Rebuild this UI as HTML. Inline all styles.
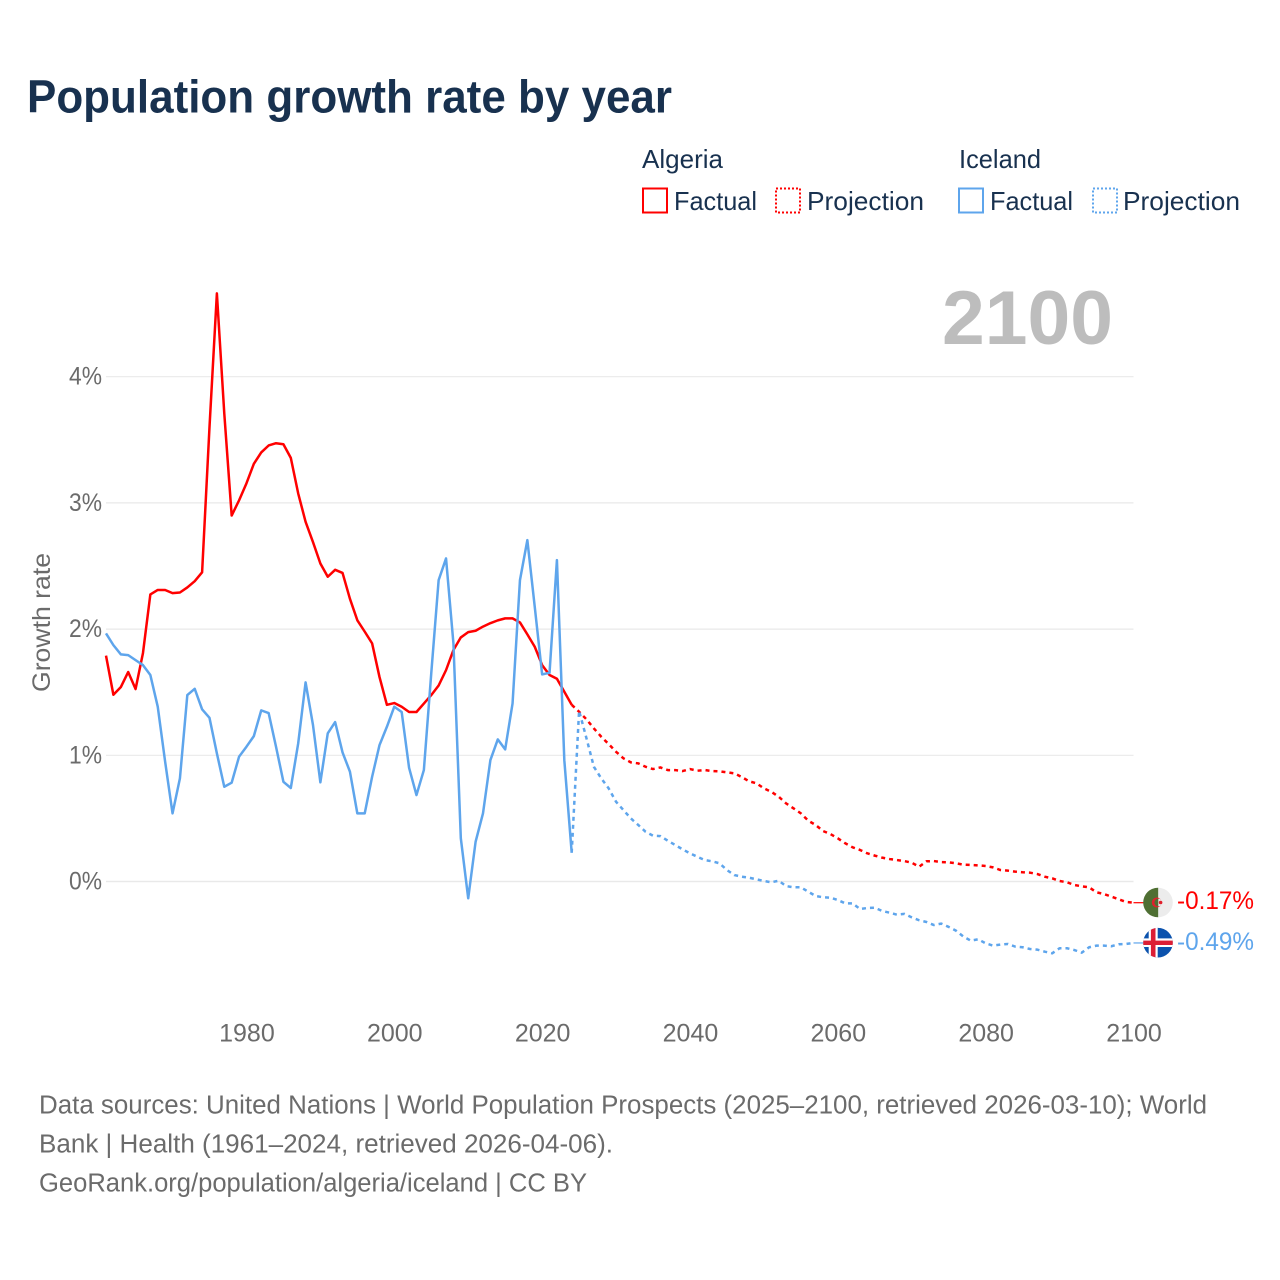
<!DOCTYPE html>
<html lang="en">
<head>
<meta charset="utf-8">
<title>Population growth rate by year</title>
<style>
html,body{margin:0;padding:0;background:#fff}
svg{display:block}
text{font-family:"Liberation Sans",sans-serif}
</style>
</head>
<body>
<svg id="chart" width="1280" height="1280" viewBox="0 0 1280 1280" xmlns="http://www.w3.org/2000/svg">
<rect width="1280" height="1280" fill="#fff"/>
<text x="27" y="112.5" font-size="46" font-weight="700" fill="#18314f" textLength="645" lengthAdjust="spacingAndGlyphs">Population growth rate by year</text>

<g font-size="26" fill="#18314f">
<text x="642" y="168" textLength="81" lengthAdjust="spacingAndGlyphs">Algeria</text>
<g>
<rect x="643" y="188.5" width="24" height="24" fill="none" stroke="#f00" stroke-width="2"/>
<text x="674" y="210" textLength="83" lengthAdjust="spacingAndGlyphs">Factual</text>
</g>
<g>
<rect x="776" y="188.5" width="24" height="24" fill="none" stroke="#f00" stroke-width="2" stroke-dasharray="2 2"/>
<text x="807" y="210" textLength="117" lengthAdjust="spacingAndGlyphs">Projection</text>
</g>
<text x="959" y="168" textLength="82" lengthAdjust="spacingAndGlyphs">Iceland</text>
<g>
<rect x="959" y="188.5" width="24" height="24" fill="none" stroke="#5ea5ec" stroke-width="2"/>
<text x="990" y="210" textLength="83" lengthAdjust="spacingAndGlyphs">Factual</text>
</g>
<g>
<rect x="1093" y="188.5" width="24" height="24" fill="none" stroke="#5ea5ec" stroke-width="2" stroke-dasharray="2 2"/>
<text x="1123" y="210" textLength="117" lengthAdjust="spacingAndGlyphs">Projection</text>
</g>
</g>

<text x="942" y="344" font-size="76" font-weight="700" fill="#bdbdbd" textLength="171" lengthAdjust="spacingAndGlyphs">2100</text>
<text transform="translate(50,692) rotate(-90)" font-size="25" fill="#6b6b6b" textLength="139" lengthAdjust="spacingAndGlyphs">Growth rate</text>

<g id="grid"></g>
<g id="yticks"></g>
<g id="xticks"></g>
<g id="series"></g>

<g id="end-markers">
<defs>
<clipPath id="clip-dz"><circle cx="1158" cy="902.5" r="14.8"/></clipPath>
<clipPath id="clip-is"><circle cx="1158" cy="942.7" r="14.8"/></clipPath>
</defs>
<g clip-path="url(#clip-dz)">
<rect x="1143" y="887" width="15.3" height="31" fill="#4f6f33"/>
<rect x="1158.3" y="887" width="15" height="31" fill="#ececec"/>
<circle cx="1156.8" cy="902.5" r="5" fill="#e0202c"/>
<path d="M1158.3 898.6a3.9 3.9 0 0 0 0 7.8z" fill="#4f6f33"/>
<path d="M1158.3 898.6a3.9 3.9 0 0 1 0 7.8z" fill="#ececec"/>
<circle cx="1160.6" cy="902.5" r="1.8" fill="#e0202c"/>
</g>
<g clip-path="url(#clip-is)">
<rect x="1143" y="927" width="31" height="31" fill="#0b52ad"/>
<rect x="1148.7" y="927" width="9" height="31" fill="#fff"/>
<rect x="1143" y="938.4" width="31" height="8.6" fill="#fff"/>
<rect x="1150.9" y="927" width="4.6" height="31" fill="#dc1e35"/>
<rect x="1143" y="940.6" width="31" height="4.4" fill="#dc1e35"/>
</g>
<text x="1177" y="909" font-size="25" fill="#f00" textLength="77" lengthAdjust="spacingAndGlyphs">-0.17%</text>
<text x="1177" y="950" font-size="25" fill="#5ea5ec" textLength="77" lengthAdjust="spacingAndGlyphs">-0.49%</text>
</g>

<g font-size="25.5" fill="#6b6b6b">
<text x="39" y="1113.5" textLength="1168" lengthAdjust="spacingAndGlyphs">Data sources: United Nations | World Population Prospects (2025–2100, retrieved 2026-03-10); World</text>
<text x="39" y="1152.5" textLength="574" lengthAdjust="spacingAndGlyphs">Bank | Health (1961–2024, retrieved 2026-04-06).</text>
<text x="39" y="1191.5" textLength="548" lengthAdjust="spacingAndGlyphs">GeoRank.org/population/algeria/iceland | CC BY</text>
</g>
</svg>

<script>
const xTickYears = [1980, 2000, 2020, 2040, 2060, 2080, 2100];
const yTickValues = [0, 1, 2, 3, 4];
const yTickLabels = ['0%', '1%', '2%', '3%', '4%'];

const factualYears = [1961,1962,1963,1964,1965,1966,1967,1968,1969,1970,1971,1972,1973,1974,1975,1976,1977,1978,1979,1980,1981,1982,1983,1984,1985,1986,1987,1988,1989,1990,1991,1992,1993,1994,1995,1996,1997,1998,1999,2000,2001,2002,2003,2004,2005,2006,2007,2008,2009,2010,2011,2012,2013,2014,2015,2016,2017,2018,2019,2020,2021,2022,2023,2024];
const projectionYears = [2024,2025,2026,2027,2028,2029,2030,2031,2032,2033,2034,2035,2036,2037,2038,2039,2040,2041,2042,2043,2044,2045,2046,2047,2048,2049,2050,2051,2052,2053,2054,2055,2056,2057,2058,2059,2060,2061,2062,2063,2064,2065,2066,2067,2068,2069,2070,2071,2072,2073,2074,2075,2076,2077,2078,2079,2080,2081,2082,2083,2084,2085,2086,2087,2088,2089,2090,2091,2092,2093,2094,2095,2096,2097,2098,2099,2100];

const algeriaFactual = [1.79,1.48,1.54,1.66,1.525,1.81,2.275,2.31,2.31,2.285,2.29,2.33,2.38,2.45,3.6,4.66,3.71,2.90,3.02,3.155,3.31,3.40,3.455,3.473,3.465,3.357,3.075,2.85,2.69,2.52,2.415,2.47,2.445,2.24,2.07,1.98,1.887,1.62,1.40,1.414,1.385,1.343,1.343,1.41,1.477,1.553,1.675,1.834,1.934,1.976,1.987,2.02,2.047,2.069,2.085,2.085,2.053,1.958,1.86,1.715,1.636,1.607,1.504,1.40];
const icelandFactual = [1.966,1.873,1.80,1.794,1.754,1.715,1.636,1.385,0.949,0.54,0.817,1.477,1.527,1.364,1.297,1.015,0.751,0.783,0.989,1.068,1.152,1.356,1.335,1.068,0.79,0.741,1.094,1.578,1.24,0.786,1.174,1.263,1.023,0.87,0.54,0.54,0.83,1.081,1.226,1.385,1.343,0.901,0.685,0.883,1.649,2.388,2.56,1.887,0.342,-0.133,0.315,0.54,0.962,1.126,1.047,1.411,2.388,2.705,2.177,1.641,1.654,2.547,0.962,0.228];
const algeriaProjection = [1.40,1.345,1.285,1.213,1.147,1.089,1.028,0.976,0.944,0.936,0.909,0.891,0.904,0.883,0.883,0.875,0.891,0.878,0.883,0.875,0.873,0.865,0.857,0.828,0.794,0.778,0.738,0.711,0.672,0.619,0.58,0.54,0.482,0.448,0.40,0.376,0.342,0.303,0.271,0.25,0.223,0.205,0.189,0.178,0.17,0.162,0.149,0.117,0.16,0.162,0.154,0.152,0.144,0.133,0.131,0.128,0.123,0.112,0.091,0.086,0.078,0.073,0.07,0.059,0.038,0.025,0.004,-0.006,-0.028,-0.038,-0.046,-0.086,-0.099,-0.12,-0.141,-0.162,-0.168];
const icelandProjection = [0.228,1.353,1.134,0.909,0.817,0.738,0.632,0.566,0.50,0.448,0.394,0.363,0.36,0.323,0.289,0.255,0.223,0.196,0.17,0.16,0.144,0.091,0.051,0.038,0.03,0.017,0.004,-0.006,0.006,-0.036,-0.046,-0.046,-0.081,-0.115,-0.125,-0.128,-0.147,-0.173,-0.173,-0.218,-0.21,-0.208,-0.234,-0.247,-0.263,-0.257,-0.284,-0.307,-0.321,-0.345,-0.334,-0.36,-0.39,-0.437,-0.469,-0.458,-0.49,-0.508,-0.50,-0.495,-0.516,-0.521,-0.535,-0.54,-0.556,-0.569,-0.529,-0.529,-0.543,-0.564,-0.521,-0.508,-0.508,-0.513,-0.497,-0.495,-0.487];

const NS = 'http://www.w3.org/2000/svg';
const plotLeft = 106;
const plotRight = 1133.5;
const xScale = function (year) { return plotLeft + (year - 1961) * (plotRight - plotLeft) / (2100 - 1961); };
const yScale = function (value) { return 881.5 - value * 126.2; };

function make(tag, parent, attrs) {
  const el = document.createElementNS(NS, tag);
  for (const k in attrs) el.setAttribute(k, attrs[k]);
  parent.appendChild(el);
  return el;
}

const gridGroup = document.getElementById('grid');
const yGroup = document.getElementById('yticks');
yTickValues.forEach(function (v, i) {
  const line = make('line', gridGroup, { x1: plotLeft, x2: plotRight, y1: yScale(v), y2: yScale(v), stroke: '#e9e9e9', 'stroke-width': v === 0 ? 1.5 : 1.2 });
  
  
  const label = make('text', yGroup, { x: 69, y: yScale(v) + 8, 'font-size': 25, fill: '#6b6b6b', textLength: 33, lengthAdjust: 'spacingAndGlyphs' });
  
  
  label.textContent = yTickLabels[i];
});

const xGroup = document.getElementById('xticks');
xTickYears.forEach(function (year) {
  const label = make('text', xGroup, { x: xScale(year) + 0.5, y: 1041.5, 'text-anchor': 'middle', 'font-size': 25, fill: '#6b6b6b' });
  
  
  label.textContent = String(year);
});

const seriesGroup = document.getElementById('series');
function drawLine(years, values, color, dashed) {
  const pts = years.map(function (y, i) { return xScale(y).toFixed(2) + ',' + yScale(values[i]).toFixed(2); }).join(' ');
  const attrs = { points: pts, fill: 'none', stroke: color, 'stroke-width': 2.5, 'stroke-linejoin': 'round' };
  if (dashed) attrs['stroke-dasharray'] = '4 4';
  return make('polyline', seriesGroup, attrs);
}

const algeriaFactualLine = drawLine(factualYears, algeriaFactual, '#f00', false);


const algeriaProjectionLine = drawLine(projectionYears, algeriaProjection, '#f00', true);


const icelandFactualLine = drawLine(factualYears, icelandFactual, '#5ea5ec', false);


const icelandProjectionLine = drawLine(projectionYears, icelandProjection, '#5ea5ec', true);



const algeriaLast = algeriaProjection[algeriaProjection.length - 1];
const icelandLast = icelandProjection[icelandProjection.length - 1];
const algeriaConnector = make('line', seriesGroup, { x1: plotRight, x2: 1144, y1: yScale(algeriaLast), y2: yScale(algeriaLast), stroke: '#f00', 'stroke-width': 1.2 });


const icelandConnector = make('line', seriesGroup, { x1: plotRight, x2: 1144, y1: yScale(icelandLast), y2: yScale(icelandLast), stroke: '#5ea5ec', 'stroke-width': 1.2 });


</script>
</body>
</html>
